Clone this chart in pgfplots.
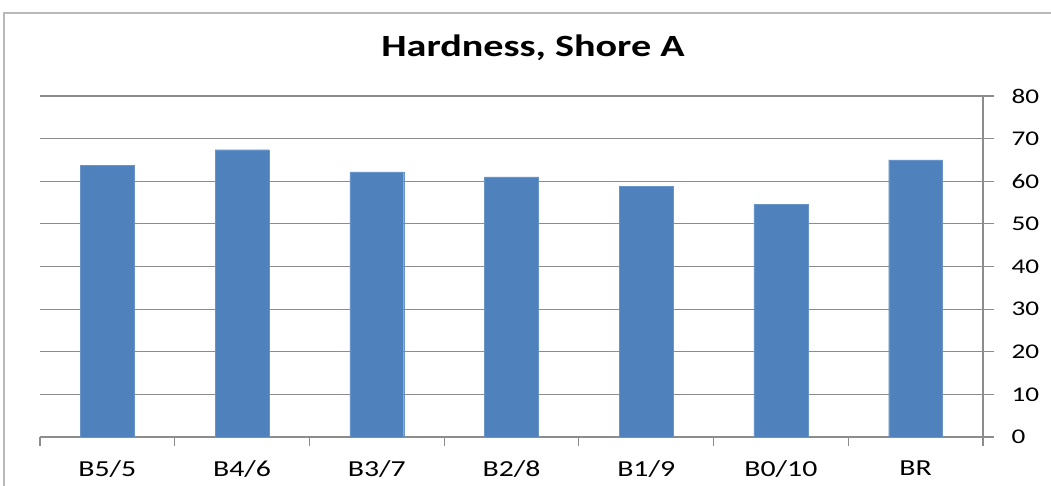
\documentclass[border=0pt]{standalone}
\usepackage{fontspec}
\setmainfont[FakeStretch=1.3]{Carlito}
\usepackage{pgfplots}
\pgfplotsset{compat=1.18}
\definecolor{barblue}{HTML}{4F81BD}
\definecolor{gridgray}{HTML}{8C8C8C}
\begin{document}
\begin{tikzpicture}[x=1bp,y=1bp]
\useasboundingbox (0,0) rectangle (1051,486);
% outer chart frame
\draw[gray!55, line width=1.2bp] (4,0) -- (4,473) -- (1051,473);
\node[font=\fontsize{31}{34}\selectfont\bfseries] at (533,438) {Hardness, Shore A};
\begin{axis}[
    at={(40bp,49bp)}, anchor=south west,
    scale only axis,
    width=943bp, height=341bp,
    ybar, bar width=0.4,
    xmin=-0.5, xmax=6.5,
    ymin=0, ymax=80,
    axis x line*=bottom,
    axis y line*=right,
    axis line style={gridgray, line width=1.1bp},
    xtick={0,...,6},
    xticklabels={B5/5,B4/6,B3/7,B2/8,B1/9,B0/10,BR},
    minor xtick={-0.5,0.5,...,6.5},
    ytick={0,10,...,80},
    ymajorgrids,
    grid style={gridgray, line width=1.1bp},
    tick align=outside,
    tick style={gridgray, line width=1.1bp},
    major tick length=11bp,
    minor tick length=9bp,
    x tick style={draw=none},
    minor x tick style={draw=gridgray},
    xticklabel style={font=\fontsize{23}{25}\selectfont, yshift=-9bp},
    yticklabel style={font=\fontsize{21}{23}\selectfont, xshift=14bp},
    /pgf/number format/assume math mode=true,
    clip=false,
]
\addplot[fill=barblue, draw=barblue!85!white] coordinates {
(0, 63.8)
(1, 67.4)
(2, 62.2)
(3, 61.0)
(4, 58.8)
(5, 54.5)
(6, 65.0)
};
\end{axis}
\end{tikzpicture}
\end{document}
